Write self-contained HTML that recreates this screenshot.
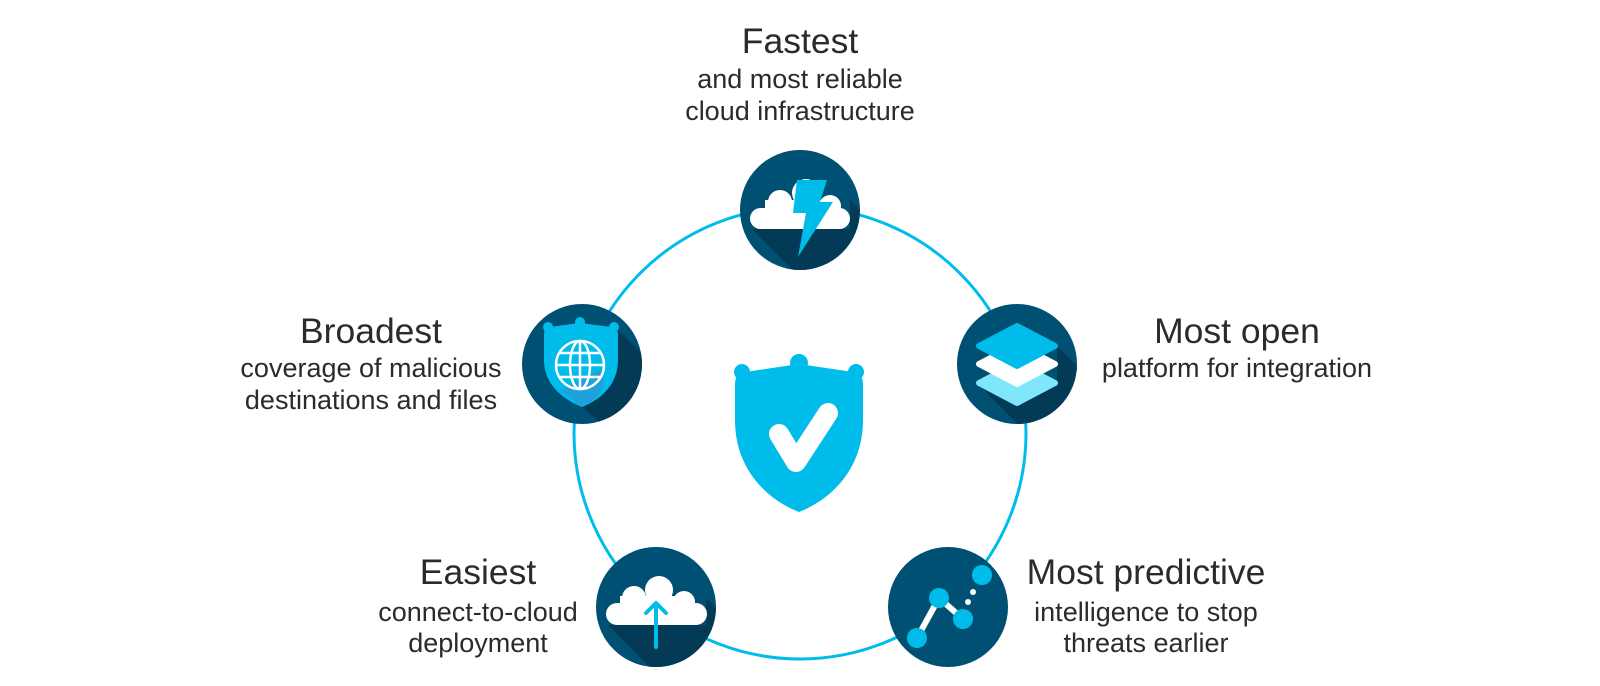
<!DOCTYPE html>
<html><head><meta charset="utf-8"><style>
html,body{margin:0;padding:0;background:#fff;overflow:hidden;width:1600px;height:686px;}
svg{display:block}
text{font-family:"Liberation Sans",sans-serif;fill:#2b2b2b;}
.t{font-size:35.5px}
.s{font-size:27px}
</style></head><body>
<svg width="1600" height="686" viewBox="0 0 1600 686" xmlns="http://www.w3.org/2000/svg">
<defs>
<clipPath id="c1"><circle cx="800" cy="210" r="60"/></clipPath>
<clipPath id="c2"><circle cx="1017" cy="364" r="60"/></clipPath>
<clipPath id="c3"><circle cx="582" cy="364" r="60"/></clipPath>
<clipPath id="c4"><circle cx="656" cy="607" r="60"/></clipPath>
</defs>
<circle cx="800" cy="433" r="226" fill="none" stroke="#00bceb" stroke-width="3"/>

<!-- center shield -->
<g fill="#00bceb">
<path d="M745,372 L799,364 L853,372 Q863,372 863,385 L863,420 C863,470 830,500 799,512 C768,500 735,470 735,420 L735,385 Q735,372 745,372 Z"/>
<circle cx="742" cy="372" r="8"/><circle cx="799" cy="363" r="9"/><circle cx="856" cy="372" r="8"/>
</g>
<polyline points="779,434 796,462 828,413" fill="none" stroke="#fff" stroke-width="20" stroke-linecap="round" stroke-linejoin="round"/>

<!-- top node -->
<circle cx="800" cy="210" r="60" fill="#005073"/>
<g clip-path="url(#c1)"><polygon points="752,229 850,229 850,200 1050,400 950,429" fill="#033a55"/></g>
<g fill="#fff">
<rect x="750" y="208" width="100" height="21" rx="10.5"/>
<circle cx="780" cy="202" r="12"/><circle cx="806" cy="193" r="14"/><circle cx="830" cy="206" r="11"/>
<rect x="765" y="200" width="70" height="20"/>
</g>
<polygon points="797,180 827,180 820,202 833,202 798,257 806,213 793,213" fill="#00bceb"/>

<!-- right node -->
<circle cx="1017" cy="364" r="60" fill="#005073"/>
<g clip-path="url(#c2)"><polygon points="977,383 1057,383 1057,346 1250,540 1170,577" fill="#033a55"/></g>
<g stroke-linejoin="round" stroke-width="6">
<polygon points="1017,363 1055,383 1017,403 979,383" fill="#7fe6fb" stroke="#7fe6fb"/>
<polygon points="1017,344 1055,364 1017,384 979,364" fill="#fff" stroke="#fff"/>
<polygon points="1017,326 1055,346 1017,366 979,346" fill="#00bceb" stroke="#00bceb"/>
</g>

<!-- left node -->
<circle cx="582" cy="364" r="60" fill="#005073"/>
<g clip-path="url(#c3)"><polygon points="544,330 618,330 800,512 760,560 582,407" fill="#033a55"/></g>
<g fill="#00bceb">
<path d="M549,327 L580,323 L611,327 Q618,327 618,335 L618,360 C618,385 600,400 582,407 C564,400 544,385 544,360 L544,335 Q544,327 549,327 Z"/>
<circle cx="548" cy="327" r="5"/><circle cx="580" cy="322" r="5"/><circle cx="614" cy="327" r="5"/>
</g>
<path d="M600,370 C610,380 600,400 582,407 L560,390 Z" fill="#1ea2d9"/>
<g fill="none" stroke="#fff" stroke-width="2.5">
<circle cx="580" cy="365" r="24"/>
<ellipse cx="580" cy="365" rx="10" ry="24"/>
<line x1="580" y1="341" x2="580" y2="389"/>
<line x1="556" y1="365" x2="604" y2="365"/>
<line x1="560" y1="353" x2="600" y2="353"/>
<line x1="560" y1="377" x2="600" y2="377"/>
</g>

<!-- bottom-left node -->
<circle cx="656" cy="607" r="60" fill="#005073"/>
<g clip-path="url(#c4)"><polygon points="608,625 706,625 706,598 900,790 800,820" fill="#033a55"/></g>
<g fill="#fff">
<rect x="606" y="603" width="101" height="22" rx="11"/>
<circle cx="634" cy="598" r="12"/><circle cx="659" cy="590" r="14"/><circle cx="684" cy="602" r="11"/>
<rect x="620" y="596" width="72" height="20"/>
</g>
<g stroke="#00bceb" stroke-width="4" fill="none" stroke-linecap="round" stroke-linejoin="round">
<line x1="656" y1="604" x2="656" y2="647"/>
<polyline points="646,613 656,603 666,613"/>
</g>

<!-- bottom-right node -->
<circle cx="948" cy="607" r="60" fill="#005073"/>
<polyline points="917,638 939,598 963,619" fill="none" stroke="#fff" stroke-width="6"/>
<g fill="#00bceb">
<circle cx="982" cy="575" r="10"/><circle cx="939" cy="598" r="10"/><circle cx="963" cy="619" r="10"/><circle cx="917" cy="638" r="10"/>
</g>
<circle cx="973" cy="592" r="3" fill="#fff"/><circle cx="968" cy="602" r="3" fill="#fff"/>

<!-- labels -->
<g text-anchor="middle">
<text class="t" x="800" y="53">Fastest</text>
<text class="s" x="800" y="88">and most reliable</text>
<text class="s" x="800" y="120">cloud infrastructure</text>

<text class="t" x="1237" y="343">Most open</text>
<text class="s" x="1237" y="377">platform for integration</text>

<text class="t" x="371" y="343">Broadest</text>
<text class="s" x="371" y="377">coverage of malicious</text>
<text class="s" x="371" y="409">destinations and files</text>

<text class="t" x="478" y="584">Easiest</text>
<text class="s" x="478" y="621">connect-to-cloud</text>
<text class="s" x="478" y="652">deployment</text>

<text class="t" x="1146" y="584">Most predictive</text>
<text class="s" x="1146" y="621">intelligence to stop</text>
<text class="s" x="1146" y="652">threats earlier</text>
</g>
</svg>
</body></html>
